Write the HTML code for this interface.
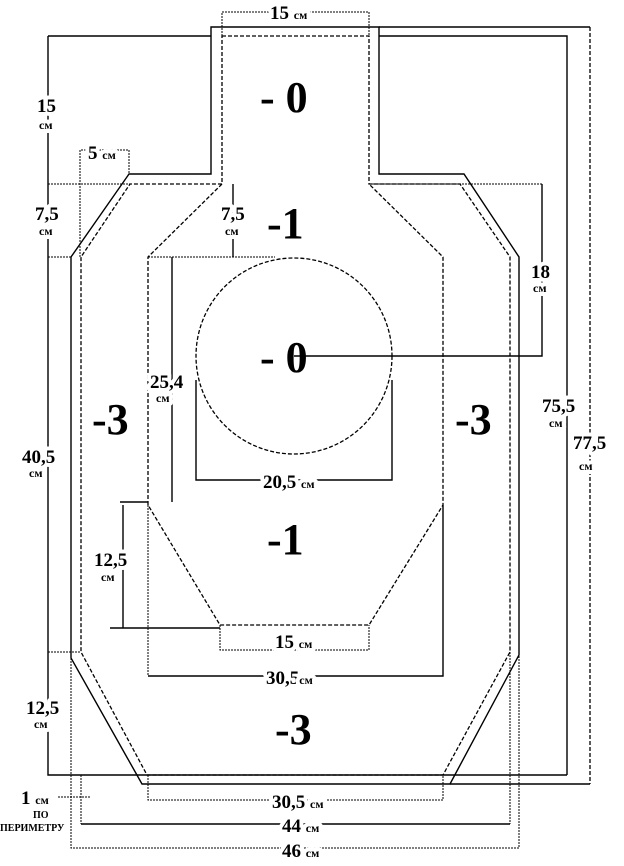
<!DOCTYPE html>
<html><head><meta charset="utf-8"><style>
html,body{margin:0;padding:0;background:#fff;}
svg{display:block}
text{font-family:"Liberation Serif","DejaVu Serif",serif;font-weight:bold;fill:#000;paint-order:stroke;stroke:#fff;stroke-width:8px;stroke-linejoin:round}
.s{font-size:19px}
.c{font-size:12px}
.b{font-size:44px;stroke-width:0}
</style></head><body>
<svg width="624" height="866" viewBox="0 0 624 866" xmlns="http://www.w3.org/2000/svg">
<g fill="none" stroke="#000" stroke-width="1.4">
<path d="M211,27 L379,27 L379,174 L464,174 L519,257 L519,655 L450,784 L142,784 L71,658 L71,257 L129,174 L211,174 Z"/>
<path d="M379,27 L590,27"/>
<path d="M48,36 L211,36 M379,36 L567,36 L567,775"/>
<path d="M48,36 L48,775 L567,775"/>
<path d="M450,784 L590,784"/>
<path d="M294,356 L542,356 L542,184"/>
<path d="M172,257 L172,502 M120,502 L148,502"/>
<path d="M123,505 L123,628 M110,628 L220,628"/>
<path d="M233,184 L233,257"/>
<path d="M196,380 L196,480 L392,480 L392,380"/>
<path d="M148,676 L443,676 L443,505"/>
<path d="M81,824 L510,824"/>
</g>
<g fill="none" stroke="#000" stroke-width="1.3" stroke-dasharray="4,2">
<path d="M222,36 L369,36 L369,184 L460,184 L510,257 L510,652 L443,775 L147,775 L81,652 L81,257 L130,184 L222,184 Z"/>
<path d="M222,184 L148,257 L148,505 L220,625 L369,625 L443,505 L443,257 L369,184"/>
<circle cx="294" cy="356" r="98"/>
<path d="M590,27 L590,784"/>
</g>
<g fill="none" stroke="#000" stroke-width="1" stroke-dasharray="2,1">
<path d="M222,36 L222,12 L369,12 L369,36"/>
<path d="M48,184 L130,184 M369,184 L542,184"/>
<path d="M48,257 L71,257 M148,257 L275,257"/>
<path d="M80,257 L80,150 L129,150 L129,174"/>
<path d="M220,625 L220,650 L369,650 L369,625"/>
<path d="M148,505 L148,676"/>
<path d="M48,652 L81,652"/>
<path d="M148,775 L148,800 L443,800 L443,775"/>
<path d="M81,775 L81,824 M510,652 L510,824"/>
<path d="M71,658 L71,848 L519,848 L519,655"/>
<path d="M58,797 L90,797"/>
</g>
<text class="b" x="260" y="112">- 0</text>
<text class="b" x="267" y="238">-1</text>
<text class="b" x="260" y="372">- 0</text>
<text class="b" x="92" y="434">-3</text>
<text class="b" x="455" y="434">-3</text>
<text class="b" x="267" y="554">-1</text>
<text class="b" x="275" y="744">-3</text>
<text class="s" x="270" y="19">15 <tspan class="c">см</tspan></text>
<text class="s" x="37" y="112">15</text><text class="c" x="39" y="129">см</text>
<text class="s" x="88" y="159">5 <tspan class="c">см</tspan></text>
<text class="s" x="35" y="220">7,5</text><text class="c" x="39" y="235">см</text>
<text class="s" x="221" y="220">7,5</text><text class="c" x="225" y="235">см</text>
<text class="s" x="531" y="278">18</text><text class="c" x="533" y="292">см</text>
<text class="s" x="150" y="388">25,4</text><text class="c" x="156" y="402">см</text>
<text class="s" x="22" y="463">40,5</text><text class="c" x="29" y="477">см</text>
<text class="s" x="542" y="412">75,5</text><text class="c" x="549" y="427">см</text>
<text class="s" x="573" y="449">77,5</text><text class="c" x="579" y="470">см</text>
<text class="s" x="263" y="488">20,5 <tspan class="c">см</tspan></text>
<text class="s" x="94" y="566">12,5</text><text class="c" x="101" y="581">см</text>
<text class="s" x="275" y="648">15 <tspan class="c">см</tspan></text>
<text class="s" x="266" y="684">30,5<tspan class="c">см</tspan></text>
<text class="s" x="26" y="714">12,5</text><text class="c" x="34" y="728">см</text>
<text class="s" x="21" y="804">1 <tspan class="c">см</tspan></text>
<text class="c" x="33" y="818" style="font-size:10px">ПО</text>
<text class="c" x="0" y="831" style="font-size:10px">ПЕРИМЕТРУ</text>
<text class="s" x="272" y="808">30,5 <tspan class="c">см</tspan></text>
<text class="s" x="282" y="832">44 <tspan class="c">см</tspan></text>
<text class="s" x="282" y="857">46 <tspan class="c">см</tspan></text>
</svg>
</body></html>
